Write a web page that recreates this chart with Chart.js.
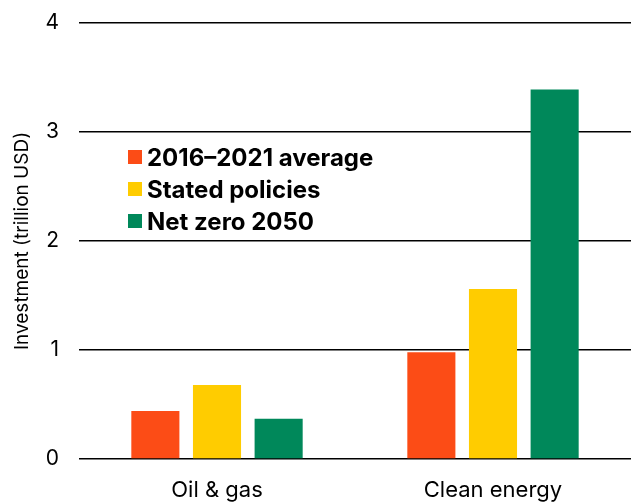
<!DOCTYPE html>
<html lang="en">
<head>
    <meta charset="UTF-8">
    <title>Energy investment</title>
    <script src="https://cdn.jsdelivr.net/npm/chart.js"></script>
    <style>
        html, body { margin: 0; padding: 0; background: #fff; }
        body { font-family: Inter, "Open Sans", sans-serif; }
        .wrap { position: relative; width: 631px; height: 503px; }
        #legend { position: absolute; left: 128px; top: 141px; }
        .item { display: flex; align-items: center; height: 32px; font-weight: 700; font-size: 24px; color: #000; }
        .swatch { width: 14px; height: 14px; margin-right: 5px; }
    </style>
</head>
<body>
    <div class="wrap">
        <canvas id="chart" width="631" height="503"></canvas>
        <div id="legend"></div>
    </div>

    <script>
        const categories = ["Oil & gas", "Clean energy"];
        const seriesNames = ["2016\u20132021 average", "Stated policies", "Net zero 2050"];
        const avg2016_2021 = [0.44, 0.98];
        const statedPolicies = [0.68, 1.56];
        const netZero2050 = [0.37, 3.39];
        const colors = ["#fc4c16", "#ffcc00", "#00885a"];

        const values = [avg2016_2021, statedPolicies, netZero2050];

        const chart = new Chart(document.getElementById("chart"), {
            type: "bar",
            data: {
                labels: categories,
                datasets: seriesNames.map((name, i) => ({
                    label: name,
                    data: values[i],
                    backgroundColor: colors[i],
                    categoryPercentage: 0.67,
                    barPercentage: 0.78
                }))
            },
            options: {
                responsive: false,
                animation: false,
                layout: { padding: 0 },
                plugins: { legend: { display: false }, tooltip: { enabled: false } },
                scales: {
                    x: {
                        grid: { display: false },
                        border: { display: false },
                        ticks: { color: "#000", font: { family: "Inter", size: 22 }, padding: 10 },
                        afterFit: (scale) => { scale.height = 44; }
                    },
                    y: {
                        min: 0, max: 4,
                        ticks: { stepSize: 1, color: "#000", font: { family: "Inter", size: 21 }, padding: 20 },
                        grid: { color: "#000", lineWidth: 1.5, drawTicks: false },
                        border: { display: false },
                        title: { display: true, text: "Investment (trillion USD)", color: "#000", font: { family: "Inter", size: 19 }, padding: { top: 11, bottom: 0 } },
                        afterFit: (scale) => {
                            scale.width = 79;
                            scale.paddingTop = 23; // top gridline sits at y=23
                        }
                    }
                }
            }
        });

        // html legend placed inside the plot
        const legend = document.getElementById("legend");
        seriesNames.forEach((name, i) => {
            const row = document.createElement("div");
            row.className = "item";
            row.innerHTML = '<span class="swatch" style="background:' + colors[i] + '"></span>' + name;
            legend.appendChild(row);
        });
    </script>
</body>
</html>
